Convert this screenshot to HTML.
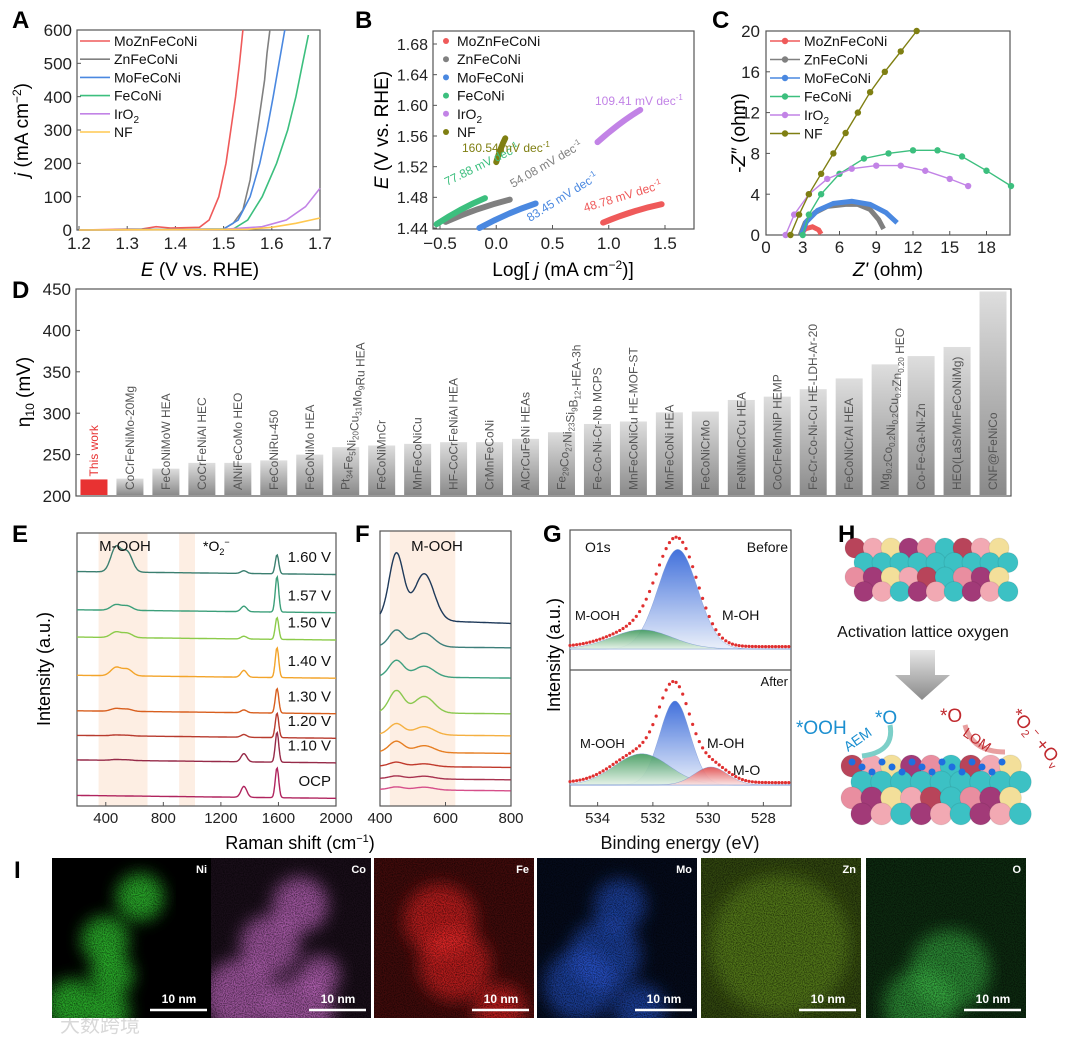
<!DOCTYPE html>
<html><head><meta charset="utf-8">
<style>
html,body{margin:0;padding:0;background:#fff;}
svg{display:block;font-family:"Liberation Sans","Noto Sans CJK SC",sans-serif;}
</style></head>
<body>
<svg id="fig" width="1080" height="1040" viewBox="0 0 1080 1040" xmlns="http://www.w3.org/2000/svg">
<defs>
<linearGradient id="barGrad" x1="0" y1="0" x2="0" y2="1"><stop offset="0" stop-color="#dedede"/><stop offset="1" stop-color="#8a8a8a"/></linearGradient>
<linearGradient id="blueGrad" x1="0" y1="0" x2="0" y2="1"><stop offset="0" stop-color="#2e62d8"/><stop offset="1" stop-color="#e8eefa"/></linearGradient>
<linearGradient id="greenGrad" x1="0" y1="0" x2="0" y2="1"><stop offset="0" stop-color="#3f9a5c"/><stop offset="1" stop-color="#e4f2e6"/></linearGradient>
<linearGradient id="redGrad" x1="0" y1="0" x2="0" y2="1"><stop offset="0" stop-color="#e04848"/><stop offset="1" stop-color="#fbe4e4"/></linearGradient>
<linearGradient id="arrowGrad" x1="0" y1="0" x2="0" y2="1"><stop offset="0" stop-color="#e6e6e6"/><stop offset="1" stop-color="#8a8a8a"/></linearGradient>
<filter id="blur6"><feGaussianBlur stdDeviation="8"/></filter>
<filter id="speck"><feTurbulence type="fractalNoise" baseFrequency="0.9" numOctaves="1" seed="3"/><feColorMatrix type="matrix" values="0 0 0 0 0  0 0 0 0 0  0 0 0 0 0  0 0 0 -2.2 1.4"/></filter>
</defs>
<g font-weight="bold" font-size="24" fill="#000">
<text x="12" y="28">A</text>
<text x="355" y="28">B</text>
<text x="712" y="28">C</text>
<text x="12" y="298">D</text>
<text x="12" y="542">E</text>
<text x="355" y="542">F</text>
<text x="543" y="542">G</text>
<text x="838" y="542">H</text>
<text x="14" y="878">I</text>
</g>
<text x="60" y="1032" font-size="20" fill="#d8d8d8">大数跨境</text>
</svg>
<script>
// ---------- DATA ----------
// Panel A (LSV)
const lsvNames = ["MoZnFeCoNi","ZnFeCoNi","MoFeCoNi","FeCoNi","IrO2","NF"];
const lsvMoZn = [[1.2,0],[1.33,3],[1.36,10],[1.39,6],[1.45,8],[1.47,30],[1.49,100],[1.505,200],[1.515,300],[1.525,400],[1.533,500],[1.54,600]];
const lsvZn = [[1.2,0],[1.5,3],[1.52,20],[1.54,60],[1.555,150],[1.565,250],[1.575,350],[1.585,450],[1.59,530],[1.596,600]];
const lsvMo = [[1.2,0],[1.5,3],[1.53,30],[1.555,100],[1.575,200],[1.59,300],[1.603,400],[1.615,500],[1.627,600]];
const lsvFe = [[1.2,0],[1.52,3],[1.55,30],[1.58,100],[1.61,200],[1.633,300],[1.65,400],[1.664,500],[1.676,585]];
const lsvIr = [[1.2,0],[1.5,2],[1.58,10],[1.63,30],[1.67,70],[1.7,125]];
const lsvNF = [[1.2,0],[1.55,2],[1.6,8],[1.65,20],[1.7,36]];
const aXTicks = [1.2,1.3,1.4,1.5,1.6,1.7];
const aYTicks = [0,100,200,300,400,500,600];
// Panel B (Tafel)
const tafelStart = [[0.95,1.447],[-0.45,1.448],[-0.15,1.44],[-0.53,1.445],[0.9,1.552],[0.0,1.526]];
const tafelEnd = [[1.47,1.471],[0.12,1.477],[0.35,1.472],[-0.1,1.479],[1.28,1.594],[0.08,1.557]];
const tafelLabels = ["48.78 mV dec","54.08 mV dec","83.45 mV dec","77.88 mV dec","109.41 mV dec","160.54 mV dec"];
const bXTicks = [-0.5,0,0.5,1.0,1.5];
const bYTicks = [1.44,1.48,1.52,1.56,1.60,1.64,1.68];
// Panel C (Nyquist)
const nyqMoZn = [[2.8,0],[3.2,0.6],[3.8,0.8],[4.3,0.5],[4.5,0.1]];
const nyqZn = [[2.8,0],[3.2,1.2],[4,2.2],[5,2.8],[6.5,3.0],[7.5,3.0],[8.5,2.5],[9.2,1.5],[9.6,0.6]];
const nyqMo = [[2.9,0],[3.3,1.3],[4.2,2.4],[5.5,3.1],[7,3.3],[8.5,3.0],[9.8,2.2],[10.7,1.2]];
const nyqFe = [[3,0],[3.5,2],[4.5,4],[6,6],[8,7.5],[10,8],[12,8.3],[14,8.3],[16,7.7],[18,6.3],[20,4.8]];
const nyqIr = [[1.6,0],[2.3,2],[3.5,4],[5,5.5],[7,6.5],[9,6.8],[11,6.8],[13,6.3],[15,5.5],[16.5,4.8]];
const nyqNF = [[2,0],[2.7,2],[3.5,4],[4.5,6],[5.5,8],[6.5,10],[7.5,12],[8.5,14],[9.7,16],[11,18],[12.3,20]];
const cXTicks = [0,3,6,9,12,15,18];
const cYTicks = [0,4,8,12,16,20];
// Panel D (bar)
const catalysts = ["This work","CoCrFeNiMo-20Mg","FeCoNiMoW HEA","CoCrFeNiAl HEC","AlNiFeCoMo HEO","FeCoNiRu-450","FeCoNiMo HEA","Pt34Fe5Ni20Cu31Mo9Ru HEA","FeCoNiMnCr","MnFeCoNiCu","HF-CoCrFeNiAl HEA","CrMnFeCoNi","AlCrCuFeNi HEAs","Fe29Co27Ni23Si9B12-HEA-3h","Fe-Co-Ni-Cr-Nb MCPS","MnFeCoNiCu HE-MOF-ST","MnFeCoNi HEA","FeCoNiCrMo","FeNiMnCrCu HEA","CoCrFeMnNiP HEMP","Fe-Cr-Co-Ni-Cu HE-LDH-Ar-20","FeCoNiCrAl HEA","Mg0.2Co0.2Ni0.2Cu0.2Zn0.20 HEO","Co-Fe-Ga-Ni-Zn","HEO(LaSrMnFeCoNiMg)","CNF@FeNiCo"];
const overpotential = [220,221,233,240,240,243,250,259,261,263,265,265,269,277,287,290,301,302,316,320,329,342,359,369,380,447];
const dYTicks = [200,250,300,350,400,450];
// Panel E (Raman)
const ramanLabels = ["OCP","1.10 V","1.20 V","1.30 V","1.40 V","1.50 V","1.57 V","1.60 V"];
const ramanOffset = [4,17,26,35,48,62,72,86];
const ramanPeak1590 = [11,11,9,9,11,8,13,7];
const ramanPeak1350 = [4,3,1,1,2.5,1,2,1];
const ramanPeakOOH = [0,0.3,0.3,1,3,2,2,9];
const eXTicks = [400,800,1200,1600,2000];
// Panel F (Raman zoom)
const fOffset = [68,58,47,34,26,19.6,14.5,10,6];
const fPeak450 = [24,6,6,8,4,4,1.5,1,1];
const fPeak535 = [17,5,4,6,3,2.5,1,1,1];
const fXTicks = [400,600,800];
// Panel G (XPS)
const xpsBefore = [[531.1,83,0.72],[532.4,16,1.1]];
const xpsAfter = [[531.2,70,0.55],[532.4,26,1.0],[529.9,15,0.6]];
const gXTicks = [534,532,530,528];

// ---------- HELPERS ----------
const NS="http://www.w3.org/2000/svg";
const svg=document.getElementById('fig');
function el(tag,attrs,parent){const e=document.createElementNS(NS,tag);for(const k in attrs)e.setAttribute(k,attrs[k]);(parent||svg).appendChild(e);return e;}
function lin(d0,d1,r0,r1){return v=>r0+(v-d0)*(r1-r0)/(d1-d0);}
function txt(s,x,y,size,anchor,parent,fill){const t=el('text',{x:x,y:y,'font-size':size,'text-anchor':anchor||'middle',fill:fill||'#111'},parent);t.textContent=s;return t;}
function box(x0,y0,x1,y1,name){const r=el('rect',{x:x0,y:y0,width:x1-x0,height:y1-y0,fill:'none',stroke:'#555','stroke-width':1.2});


return r;}
function xTicks(ticks,sx,yb,ly,size,fmt,name){const g=el('g',{});


ticks.forEach(v=>{el('line',{x1:sx(v),x2:sx(v),y1:yb,y2:yb-4,stroke:'#555'},g);const t=txt(fmt(v),sx(v),ly,size,'middle',g,'#222');

});}
function yTicks(ticks,sy,xl,lx,size,fmt,name){const g=el('g',{});


ticks.forEach(v=>{el('line',{x1:xl,x2:xl+4,y1:sy(v),y2:sy(v),stroke:'#555'},g);const t=txt(fmt(v),lx,sy(v)+size*0.36,size,'end',g,'#222');

});}
function pathOf(pts,sx,sy){return pts.map((p,i)=>(i?'L':'M')+sx(p[0]).toFixed(1)+','+sy(p[1]).toFixed(1)).join('');}
function subMarkup(s){if(!/^(Pt34|Fe29|Mg0)/.test(s))return s.replace(/&/g,'&amp;');
return s.replace(/([A-Za-z])([0-9.]+)/g,(m,a,b)=>a+'<tspan font-size="8" dy="3">'+b+'</tspan><tspan dy="-3"></tspan>');}

// ---------- PANEL A ----------
{const sx=lin(1.2,1.7,79,320), sy=lin(0,600,230,30);
box(77,30,320,230,'plot-a-frame');
xTicks(aXTicks,sx,230,249,17,v=>v.toFixed(1),'a-x-axis');
yTicks(aYTicks,sy,77,72,17,v=>String(v),'a-y-axis');
const cols=['#ef5a5a','#808080','#4a88e0','#3cbf7e','#c283e6','#ffc850'];
[lsvMoZn,lsvZn,lsvMo,lsvFe,lsvIr,lsvNF].forEach((d,i)=>{const p=el('path',{d:pathOf(d,sx,sy),fill:'none',stroke:cols[i],'stroke-width':1.6});

});
lsvNames.forEach((n,i)=>{const y=41+i*18.2;el('line',{x1:80,x2:110,y1:y,y2:y,stroke:cols[i],'stroke-width':1.6});
const t=txt('',114,y+5,14,'start');


if(n==='IrO2'){t.innerHTML='IrO<tspan font-size="10" dy="4">2</tspan>';}else t.textContent=n;});
const yt=el('text',{x:0,y:0,'font-size':19,'text-anchor':'middle',transform:'translate(28,130) rotate(-90)'});
yt.innerHTML='<tspan font-style="italic">j</tspan> (mA cm<tspan font-size="12" dy="-7">−2</tspan><tspan dy="7">)</tspan>';


const xt=el('text',{x:200,y:276,'font-size':19,'text-anchor':'middle'});
xt.innerHTML='<tspan font-style="italic">E</tspan> (V vs. RHE)';

}

// ---------- PANEL B ----------
{const sx=lin(-0.5,1.5,440,665), sy=lin(1.44,1.68,228,44);
box(433,31,694,229,'plot-b-frame');
xTicks(bXTicks,sx,229,249,17,v=>(v<0?'−':'')+Math.abs(v).toFixed(1),'b-x-axis');
yTicks(bYTicks,sy,433,428,16,v=>v.toFixed(2),'b-y-axis');
const cols=['#ef5a5a','#808080','#4a88e0','#3cbf7e','#c283e6','#7f7f12'];
tafelStart.forEach((s,i)=>{const e=tafelEnd[i];const l=el('path',{d:`M${sx(s[0])},${sy(s[1])} Q${(sx(s[0])+sx(e[0]))/2},${(sy(s[1])+sy(e[1]))/2-3} ${sx(e[0])},${sy(e[1])}`,fill:'none',stroke:cols[i],'stroke-width':6,'stroke-linecap':'round'});

});
const lab=[[585,212,-17],[513,188,-30],[530,222,-32],[447,186,-26],[595,105,0],[462,152,0]];
tafelLabels.forEach((s,i)=>{const t=el('text',{x:0,y:0,'font-size':12,fill:cols[i],transform:`translate(${lab[i][0]},${lab[i][1]}) rotate(${lab[i][2]})`});
t.innerHTML=s+'<tspan font-size="8" dy="-5">-1</tspan>';

});
lsvNames.forEach((n,i)=>{const y=41+i*18.2;el('circle',{cx:446,cy:y,r:3,fill:cols[i]});
const t=txt('',457,y+5,14,'start');


if(n==='IrO2'){t.innerHTML='IrO<tspan font-size="10" dy="4">2</tspan>';}else t.textContent=n;});
const yt=el('text',{x:0,y:0,'font-size':19,'text-anchor':'middle',transform:'translate(388,130) rotate(-90)'});
yt.innerHTML='<tspan font-style="italic">E</tspan> (V vs. RHE)';


const xt=el('text',{x:563,y:276,'font-size':19,'text-anchor':'middle'});
xt.innerHTML='Log[ <tspan font-style="italic">j</tspan> (mA cm<tspan font-size="12" dy="-7">−2</tspan><tspan dy="7">)]</tspan>';

}

// ---------- PANEL C ----------
{const sx=lin(0,20,766,1011), sy=lin(0,20,235,31);
box(766,31,1010,235,'plot-c-frame');
xTicks(cXTicks,sx,235,253,17,v=>String(v),'c-x-axis');
yTicks(cYTicks,sy,766,760,17,v=>String(v),'c-y-axis');
const cols=['#ef5a5a','#808080','#4a88e0','#3cbf7e','#c283e6','#7f7f12'];
[nyqMoZn,nyqZn,nyqMo,nyqFe,nyqIr,nyqNF].forEach((d,i)=>{const p=el('path',{d:pathOf(d,sx,sy),fill:'none',stroke:cols[i],'stroke-width':i<3?5:1.4});


if(i>=3)d.forEach(pt=>{const m=el('circle',{cx:sx(pt[0]),cy:sy(pt[1]),r:3.2,fill:cols[i]});

});});
lsvNames.forEach((n,i)=>{const y=41+i*18.5;el('line',{x1:770,x2:800,y1:y,y2:y,stroke:cols[i],'stroke-width':1.6});el('circle',{cx:785,cy:y,r:3.2,fill:cols[i]});
const t=txt('',804,y+5,14,'start');


if(n==='IrO2'){t.innerHTML='IrO<tspan font-size="10" dy="4">2</tspan>';}else t.textContent=n;});
const yt=el('text',{x:0,y:0,'font-size':19,'text-anchor':'middle',transform:'translate(745,133) rotate(-90)'});
yt.innerHTML='-<tspan font-style="italic">Z″</tspan> (ohm)';


const xt=el('text',{x:888,y:276,'font-size':19,'text-anchor':'middle'});
xt.innerHTML='<tspan font-style="italic">Z\'</tspan> (ohm)';

}

// ---------- PANEL D ----------
{const sy=lin(200,450,496,289);const x0=76,bw=(1011-76)/catalysts.length;
box(76,289,1011,496,'plot-d-frame');
yTicks(dYTicks,sy,76,71,17,v=>String(v),'d-y-axis');
overpotential.forEach((v,i)=>{const cx=x0+(i+0.5)*bw;const r=el('rect',{x:cx-13.5,y:sy(v),width:27,height:sy(200)-sy(v)-1,fill:i===0?'#e83232':'url(#barGrad)'});


const t=el('text',{x:0,y:0,'font-size':12,fill:i===0?'#e83232':'#555',transform:`translate(${cx+4},${i===0?sy(v)-3:490}) rotate(-90)`});
t.innerHTML=subMarkup(catalysts[i]);

});
const yt=el('text',{x:0,y:0,'font-size':19,'text-anchor':'middle',transform:'translate(30,392) rotate(-90)'});
yt.innerHTML='η<tspan font-size="12" dy="4">10</tspan><tspan dy="-4"> (mV)</tspan>';

}

// ---------- PANEL E ----------
function gauss(x,c,s){return Math.exp(-0.5*((x-c)/s)**2);}
{const sx=lin(200,2000,77,336), sy=lin(0,100,806,533);
const b1=el('rect',{x:sx(350),y:533,width:sx(690)-sx(350),height:273,fill:'#fdeee3'});


const b2=el('rect',{x:sx(910),y:533,width:sx(1020)-sx(910),height:273,fill:'#fdeee3'});


box(77,533,336,806,'plot-e-frame');
xTicks(eXTicks,sx,806,823,15,v=>String(v),'e-x-axis');
const cols=['#b0245e','#962a48','#b83a2e','#d85f1e','#f3a42a','#8ccb4a','#3c9f7a','#3b7f70'];
ramanOffset.forEach((o,i)=>{const pts=[];for(let x=200;x<=2000;x+=6){const y=o-x*0.0006+ramanPeak1590[i]*gauss(x,1590,12)+ramanPeak1350[i]*gauss(x,1360,20)+ramanPeakOOH[i]*gauss(x,470,35)+0.8*ramanPeakOOH[i]*gauss(x,550,35);pts.push([x,y]);}
const p=el('path',{d:pathOf(pts,sx,sy),fill:'none',stroke:cols[i],'stroke-width':1.4});


const t=txt(ramanLabels[i],331,sy(o)-9,15,'end');

});
const l1=txt('M-OOH',125,551,15,'middle');


const l2=el('text',{x:203,y:551,'font-size':14});
l2.innerHTML='*O<tspan font-size="9" dy="4">2</tspan><tspan font-size="9" dy="-10">−</tspan>';


const yt=el('text',{x:0,y:0,'font-size':18,'text-anchor':'middle',transform:'translate(50,669) rotate(-90)'});
yt.textContent='Intensity (a.u.)';


const xt=el('text',{x:300,y:849,'font-size':18,'text-anchor':'middle'});
xt.innerHTML='Raman shift (cm<tspan font-size="11" dy="-7">−1</tspan><tspan dy="7">)</tspan>';

}

// ---------- PANEL F ----------
{const sx=lin(400,800,380,511), sy=lin(0,100,806,531);
const b=el('rect',{x:sx(430),y:531,width:sx(630)-sx(430),height:275,fill:'#fdeee3'});


box(380,531,511,806,'plot-f-frame');
xTicks(fXTicks,sx,806,823,15,v=>String(v),'f-x-axis');
const cols=['#1f3a5a','#3d7f7a','#3fa080','#8ac84f','#f5b041','#e67e22','#c0392b','#a8324f','#d64f8a'];
fOffset.forEach((o,i)=>{const pts=[];for(let x=400;x<=800;x+=3){const y=o-(x-400)*0.004*(i===0?1:0.3)+fPeak450[i]*gauss(x,450,22)+fPeak535[i]*gauss(x,535,30);pts.push([x,y]);}
const p=el('path',{d:pathOf(pts,sx,sy),fill:'none',stroke:cols[i],'stroke-width':1.4});

});
const l=txt('M-OOH',437,551,15,'middle');

}

// ---------- PANEL G ----------
{const sx=lin(535,527,570,791);
box(570,530,791,806,'plot-g-frame');
const dv=el('line',{x1:570,x2:791,y1:670,y2:670,stroke:'#555','stroke-width':1.2});


xTicks(gXTicks,sx,806,823,15,v=>String(v),'g-x-axis');
const grads=['url(#blueGrad)','url(#greenGrad)','url(#redGrad)'];
function panel(comps,y0,k,name){const sy=v=>y0-v*k;const env=[];
comps.forEach((c,j)=>{const pts=[];for(let x=535;x>=527;x-=0.05){pts.push([x,c[1]*gauss(x,c[0],c[2])]);}
const p=el('path',{d:pathOf(pts,sx,sy)+`L${sx(527)},${y0}L${sx(535)},${y0}Z`,fill:grads[j],stroke:'#6a8ad0','stroke-width':0.4,opacity:0.9});

});
for(let x=535;x>=527;x-=0.12){let s=0;comps.forEach(c=>s+=c[1]*gauss(x,c[0],c[2]));env.push([x,s+2]);}
env.forEach(pt=>{const d=el('circle',{cx:sx(pt[0]),cy:sy(pt[1]),r:1.6,fill:'#e03030'});

});}
panel(xpsBefore,649,1.2,'xps-before');
panel(xpsAfter,785,1.2,'xps-after');
[['O1s',585,552,'start'],['Before',788,552,'end'],['M-OOH',575,620,'start'],['M-OH',722,620,'start'],['After',788,686,'end'],['M-OOH',580,748,'start'],['M-OH',707,748,'start'],['M-O',733,775,'start']].forEach(a=>{const t=txt(a[0],a[1],a[2],a[0].length>4&&a[0]!=='Before'?13:14,a[3]);

});
const yt=el('text',{x:0,y:0,'font-size':18,'text-anchor':'middle',transform:'translate(560,655) rotate(-90)'});
yt.textContent='Intensity (a.u.)';


const xt=txt('Binding energy (eV)',680,849,18,'middle');

}

// ---------- PANEL H (schematic) ----------
{const pal=['#b8445a','#3cc1c4','#e98ea0','#a23a78','#f3df9a','#f2a9b3'];
function cluster(x0,y0,cols,rows,r,name,dots){const g=el('g',{});


for(let rr=0;rr<rows;rr++)for(let c=0;c<cols;c++){const k=(rr*7+c*5+rr*c)%pal.length;el('circle',{cx:x0+c*r*1.8+(rr%2)*r*0.9,cy:y0+rr*r*1.45,r:r,fill:pal[k],stroke:'rgba(0,0,0,0.08)'},g);}
if(dots)for(let c=0;c<16;c++){el('circle',{cx:x0+c*10,cy:y0-4+(c%3)*5,r:3.5,fill:'#1f6fe0'},g);}}
cluster(855,548,9,4,10,'lattice-cluster-top',false);
cluster(852,766,9,4,11,'lattice-cluster-bottom',true);
const t=txt('Activation  lattice oxygen',923,637,16,'middle');


const ar=el('path',{d:'M910,650 L935,650 L935,675 L950,675 L922,700 L895,675 L910,675Z',fill:'url(#arrowGrad)'});


const a1=el('path',{d:'M890,725 Q895,752 862,756',fill:'none',stroke:'#7ccfc8','stroke-width':5});


const a2=el('path',{d:'M965,725 Q972,752 1005,752',fill:'none',stroke:'#e8a0a0','stroke-width':5});


[['*OOH',796,734,19,'#1b8fd0',0],['*O',875,724,19,'#1b8fd0',0],['*O',940,722,19,'#c0282d',0],['AEM',848,752,14,'#1b8fd0',-35],['LOM',962,735,14,'#c0282d',35]].forEach(a=>{const e=el('text',{x:0,y:0,'font-size':a[3],fill:a[4],transform:`translate(${a[1]},${a[2]}) rotate(${a[5]})`});
e.textContent=a[0];

});
const o2=el('text',{x:0,y:0,'font-size':18,fill:'#c0282d',transform:'translate(1010,715) rotate(50)'});
o2.innerHTML='*O<tspan font-size="11" dy="4">2</tspan><tspan font-size="11" dy="-10">−</tspan><tspan dy="6"> +O</tspan><tspan font-size="11" dy="4">v</tspan>';

}

// ---------- PANEL I (EDS maps) ----------
{const T0=858,TH=160;
const tiles=[['Ni',52,'#30c030',[[140,897,24],[105,940,24],[112,975,22],[72,1005,26],[110,1012,20]],0.0,0.85],
['Co',211,'#d070d0',[[300,905,28],[270,945,30],[240,995,36],[300,1010,34],[320,975,20]],0.12,0.7],
['Fe',374,'#ff2a2a',[[455,965,36],[440,920,36],[500,1010,26]],0.25,0.6],
['Mo',537,'#2a5ae0',[[605,955,36],[580,985,36],[640,1010,26],[620,905,26]],0.12,0.6],
['Zn',701,'#8cc82a',[[780,945,70]],0.35,0.35],
['O',866,'#3cc04a',[[950,970,40],[920,1005,36]],0.22,0.6]];
tiles.forEach(t=>{const x=t[1],w=160,g=el('g',{});


const cp=el('clipPath',{id:'cp'+t[0]},g);el('rect',{x:x,y:T0,width:w,height:TH},cp);
const inner=el('g',{'clip-path':'url(#cp'+t[0]+')'},g);
el('rect',{x:x,y:T0,width:w,height:TH,fill:'#000'},inner);
el('rect',{x:x,y:T0,width:w,height:TH,fill:t[2],opacity:t[4]},inner);
const bl=el('g',{filter:'url(#blur6)'},inner);
t[3].forEach(c=>el('circle',{cx:c[0],cy:c[1],r:c[2],fill:t[2],opacity:t[5]},bl));
el('rect',{x:x,y:T0,width:w,height:TH,filter:'url(#speck)',opacity:0.6},inner);
const lb=txt(t[0],x+w-5,T0+15,11,'end',g,'#fff');lb.setAttribute('font-weight','bold');
el('line',{x1:x+w-62,x2:x+w-5,y1:1010,y2:1010,stroke:'#fff','stroke-width':2.5},g);
const sb=txt('10 nm',x+w-33,1003,12,'middle',g,'#fff');sb.setAttribute('font-weight','bold');});}
</script>
</body></html>
